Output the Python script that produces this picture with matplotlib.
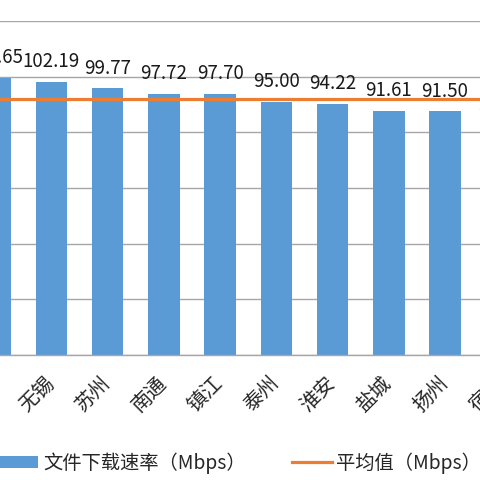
import matplotlib
matplotlib.use("Agg")
import matplotlib.pyplot as plt
from matplotlib.patches import Patch
from matplotlib.lines import Line2D

plt.rcParams['font.family'] = ['Noto Sans CJK SC', 'DejaVu Sans']

# Data (visible part of the chart; first and last bars are cut by the crop)
cities = ['常州', '无锡', '苏州', '南通', '镇江', '泰州', '淮安', '盐城', '扬州', '宿迁']
speeds = [103.65, 102.19, 99.77, 97.72, 97.70, 95.00, 94.22, 91.61, 91.50, 85.70]
labels = ['103.65', '102.19', '99.77', '97.72', '97.70', '95.00', '94.22', '91.61', '91.50', '85.70']
average = 96.07
y_min, y_max, y_step = 4, 124, 20

bar_color = '#5B9BD5'
line_color = '#ED7D31'
grid_color = '#A6A6A6'
text_color = '#1A1A1A'

fig = plt.figure(figsize=(4.8, 4.8), dpi=100)
W = H = 480.0
ax = fig.add_axes([-33.1 / W, 125 / H, 562.5 / W, 334 / H])

x = list(range(len(cities)))
ax.bar(x, speeds, width=0.56, color=bar_color, zorder=2)
ax.axhline(average, color=line_color, lw=2.3, zorder=3)

for xi, v, lab in zip(x, speeds, labels):
    ax.annotate(lab, (xi, v), xytext=(0, 7), textcoords='offset points',
                ha='center', va='bottom', fontsize=13.5, color=text_color, zorder=4)

ax.set_xlim(-0.5, len(cities) - 0.5)
ax.set_ylim(y_min, y_max)
ax.set_yticks(list(range(y_min, y_max + 1, y_step)))
ax.yaxis.grid(True, color=grid_color, lw=1.0, zorder=0)
ax.set_axisbelow(True)
ax.tick_params(axis='y', left=False, labelleft=False)

ax.set_xticks(x)
ax.set_xticklabels(cities, rotation=45, ha='right', va='center',
                   rotation_mode='anchor', fontsize=14.5, color='#262626')
ax.tick_params(axis='x', length=0, pad=18)

for s in ['top', 'left', 'right']:
    ax.spines[s].set_visible(False)
ax.spines['bottom'].set_color(grid_color)
ax.spines['bottom'].set_linewidth(1.0)

handles = [Patch(facecolor=bar_color, edgecolor='none'),
           Line2D([0], [0], color=line_color, lw=2.3)]
fig.legend(handles, ['文件下载速率（Mbps）', '平均值（Mbps）'],
           loc='center', bbox_to_anchor=(0.5, 1 - 463 / H), ncol=2, frameon=False,
           fontsize=13.9, handlelength=2.05, handleheight=0.6, handletextpad=0.25,
           columnspacing=2.4, labelcolor='#262626')

fig.savefig('out.png', dpi=100)
